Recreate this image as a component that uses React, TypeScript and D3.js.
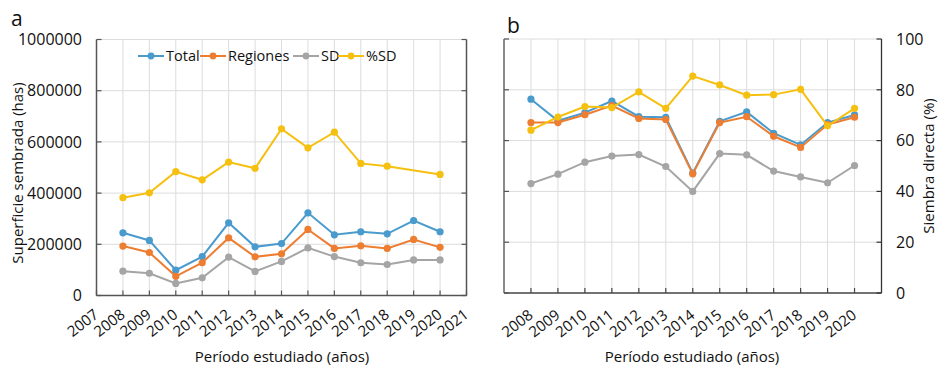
import React from "react";
import * as d3 from "d3";

const years = [2008, 2009, 2010, 2011, 2012, 2013, 2014, 2015, 2016, 2017, 2018, 2019, 2020];
const yearTicksA = [2007, 2008, 2009, 2010, 2011, 2012, 2013, 2014, 2015, 2016, 2017, 2018, 2019, 2020, 2021];
const yTicksA = [0, 200000, 400000, 600000, 800000, 1000000];
const yTicksB = [0, 20, 40, 60, 80, 100];

const totalA = [245000, 215000, 99000, 152000, 284000, 190000, 203000, 323000, 237000, 249000, 241000, 293000, 249000];
const regionesA = [193000, 168000, 75000, 128000, 225000, 151000, 163000, 258000, 184000, 194000, 184000, 219000, 188000];
const sdA = [95000, 87000, 47000, 69000, 150000, 94000, 133000, 186000, 152000, 128000, 121000, 139000, 139000];
const pctSdA: (number | null)[] = [382000, 401000, 484000, 452000, 521000, 497000, 651000, 577000, 638000, 516000, 505000, null, 473000];

const totalB = [76.3, 67.8, 71.0, 75.6, 69.4, 69.2, 47.2, 67.6, 71.3, 62.9, 58.3, 67.1, 70.1];
const regionesB = [67.1, 67.1, 70.2, 73.8, 68.7, 68.3, 46.9, 67.1, 69.4, 61.7, 57.3, 66.3, 69.2];
const sdB = [43.1, 46.8, 51.5, 53.9, 54.5, 49.8, 40.0, 54.9, 54.4, 48.0, 45.7, 43.4, 50.2];
const pctSdB = [64.1, 69.3, 73.4, 73.0, 79.2, 72.7, 85.4, 81.9, 77.9, 78.1, 80.2, 65.8, 72.7];

const seriesNames = ["Total", "Regiones", "SD", "%SD"];
const colors = ["#4a9bcd", "#ed7d31", "#a5a5a5", "#f5c010"];

const FONT = "'Open Sans', sans-serif";
const GRID = "#dcdcdc";

type Series = (number | null)[];

function Lines({ x, y, data }: { x: d3.ScaleLinear<number, number>; y: d3.ScaleLinear<number, number>; data: Series[] }) {
  return (
    <g>
      {data.map((s, i) => {
        const pts = years.map((yr, j) => [yr, s[j]] as [number, number | null]).filter((p) => p[1] !== null) as [number, number][];
        const line = d3.line<[number, number]>().x((d) => x(d[0])).y((d) => y(d[1]));
        return (
          <g key={i}>
            <path d={line(pts) || ""} fill="none" stroke={colors[i]} strokeWidth={2} />
            {pts.map((p, k) => (
              <circle key={k} cx={x(p[0])} cy={y(p[1])} r={3.6} fill={colors[i]} />
            ))}
          </g>
        );
      })}
    </g>
  );
}

function PanelA() {
  const x = d3.scaleLinear().domain([2007, 2021]).range([96.5, 466.5]);
  const y = d3.scaleLinear().domain([0, 1000000]).range([295.5, 39.5]);
  const legendX = [138, 200, 293, 338];
  return (
    <g>
      {years.map((yr) => (
        <line key={"gv" + yr} x1={x(yr)} x2={x(yr)} y1={y(1000000)} y2={y(0)} stroke={GRID} strokeWidth={1} />
      ))}
      {yTicksA.slice(1).map((t) => (
        <line key={"gh" + t} x1={x(2007)} x2={x(2021)} y1={y(t)} y2={y(t)} stroke={GRID} strokeWidth={1} />
      ))}
      <line x1={x(2007)} x2={x(2007)} y1={y(1000000)} y2={y(0)} stroke="#555" strokeWidth={1.5} />
      <line x1={x(2021)} x2={x(2021)} y1={y(1000000)} y2={y(0)} stroke="#555" strokeWidth={1.5} />
      <line x1={x(2007)} x2={x(2021)} y1={y(0)} y2={y(0)} stroke="#555" strokeWidth={1.5} />
      {yTicksA.map((t) => (
        <g key={"yt" + t}>
          <line x1={x(2007)} x2={x(2007) + 5} y1={y(t)} y2={y(t)} stroke="#555" strokeWidth={1.2} />
          <line x1={x(2021)} x2={x(2021) - 5} y1={y(t)} y2={y(t)} stroke="#555" strokeWidth={1.2} />
          <text x={82} y={y(t)} dy="0.36em" textAnchor="end" fontSize={16} fontFamily={FONT} fill="#111">
            {t}
          </text>
        </g>
      ))}
      {yearTicksA.map((yr) => (
        <g key={"xt" + yr}>
          <line x1={x(yr)} x2={x(yr)} y1={y(0)} y2={y(0) - 5} stroke="#555" strokeWidth={1.2} />
          <text transform={`translate(${x(yr) + 3},${y(0) + 21}) rotate(-38)`} textAnchor="end" fontSize={15} fontFamily={FONT} fill="#111">
            {yr}
          </text>
        </g>
      ))}
      <Lines x={x} y={y} data={[totalA, regionesA, sdA, pctSdA]} />
      {seriesNames.map((n, i) => (
        <g key={"lg" + i}>
          <line x1={legendX[i]} x2={legendX[i] + 26} y1={56} y2={56} stroke={colors[i]} strokeWidth={2} />
          <circle cx={legendX[i] + 13} cy={56} r={3.4} fill={colors[i]} />
          <text x={legendX[i] + 28} y={56} dy="0.36em" fontSize={14.5} fontFamily={FONT} fill="#111">
            {n}
          </text>
        </g>
      ))}
      <text transform={`translate(23,173) rotate(-90)`} textAnchor="middle" fontSize={15} fontFamily={FONT} fill="#111">
        Superficie sembrada (has)
      </text>
      <text x={282} y={362} textAnchor="middle" fontSize={15} fontFamily={FONT} fill="#111">
        Período estudiado (años)
      </text>
      <text x={11} y={26} fontSize={21} fontFamily={FONT} fill="#111">
        a
      </text>
    </g>
  );
}

function PanelB() {
  const x = d3.scaleLinear().domain([2007, 2021]).range([504, 881.5]);
  const y = d3.scaleLinear().domain([0, 100]).range([293, 39]);
  return (
    <g>
      {years.map((yr) => (
        <line key={"gv" + yr} x1={x(yr)} x2={x(yr)} y1={y(100)} y2={y(0)} stroke={GRID} strokeWidth={1} />
      ))}
      {yTicksB.slice(1).map((t) => (
        <line key={"gh" + t} x1={x(2007)} x2={x(2021)} y1={y(t)} y2={y(t)} stroke={GRID} strokeWidth={1} />
      ))}
      <line x1={x(2007)} x2={x(2007)} y1={y(100)} y2={y(0)} stroke="#8a8a8a" strokeWidth={2} />
      <line x1={x(2021)} x2={x(2021)} y1={y(100)} y2={y(0)} stroke="#333" strokeWidth={1.3} />
      <line x1={x(2007)} x2={x(2021)} y1={y(0)} y2={y(0)} stroke="#444" strokeWidth={1.5} />
      {yTicksB.map((t) => (
        <g key={"yt" + t}>
          <line x1={x(2007)} x2={x(2007) + 5} y1={y(t)} y2={y(t)} stroke="#555" strokeWidth={1.2} />
          <line x1={x(2021)} x2={x(2021) - 5} y1={y(t)} y2={y(t)} stroke="#333" strokeWidth={1.2} />
          <text x={896} y={y(t)} dy="0.36em" textAnchor="start" fontSize={16} fontFamily={FONT} fill="#111">
            {t}
          </text>
        </g>
      ))}
      {years.map((yr) => (
        <g key={"xt" + yr}>
          <line x1={x(yr)} x2={x(yr)} y1={y(0)} y2={y(0) - 5} stroke="#444" strokeWidth={1.2} />
          <text transform={`translate(${x(yr) + 3},${y(0) + 24}) rotate(-38)`} textAnchor="end" fontSize={15} fontFamily={FONT} fill="#111">
            {yr}
          </text>
        </g>
      ))}
      <Lines x={x} y={y} data={[totalB, regionesB, sdB, pctSdB]} />
      <text transform={`translate(934,166) rotate(-90)`} textAnchor="middle" fontSize={15} fontFamily={FONT} fill="#111">
        Siembra directa (%)
      </text>
      <text x={692} y={362} textAnchor="middle" fontSize={15} fontFamily={FONT} fill="#111">
        Período estudiado (años)
      </text>
      <text x={507} y={33} fontSize={21} fontFamily={FONT} fill="#111">
        b
      </text>
    </g>
  );
}

export default function App() {
  return (
    <svg width={938} height={367} style={{ position: "absolute", left: 0, top: 0, background: "#fff" }}>
      <rect width={938} height={367} fill="#fff" />
      <PanelA />
      <PanelB />
    </svg>
  );
}
